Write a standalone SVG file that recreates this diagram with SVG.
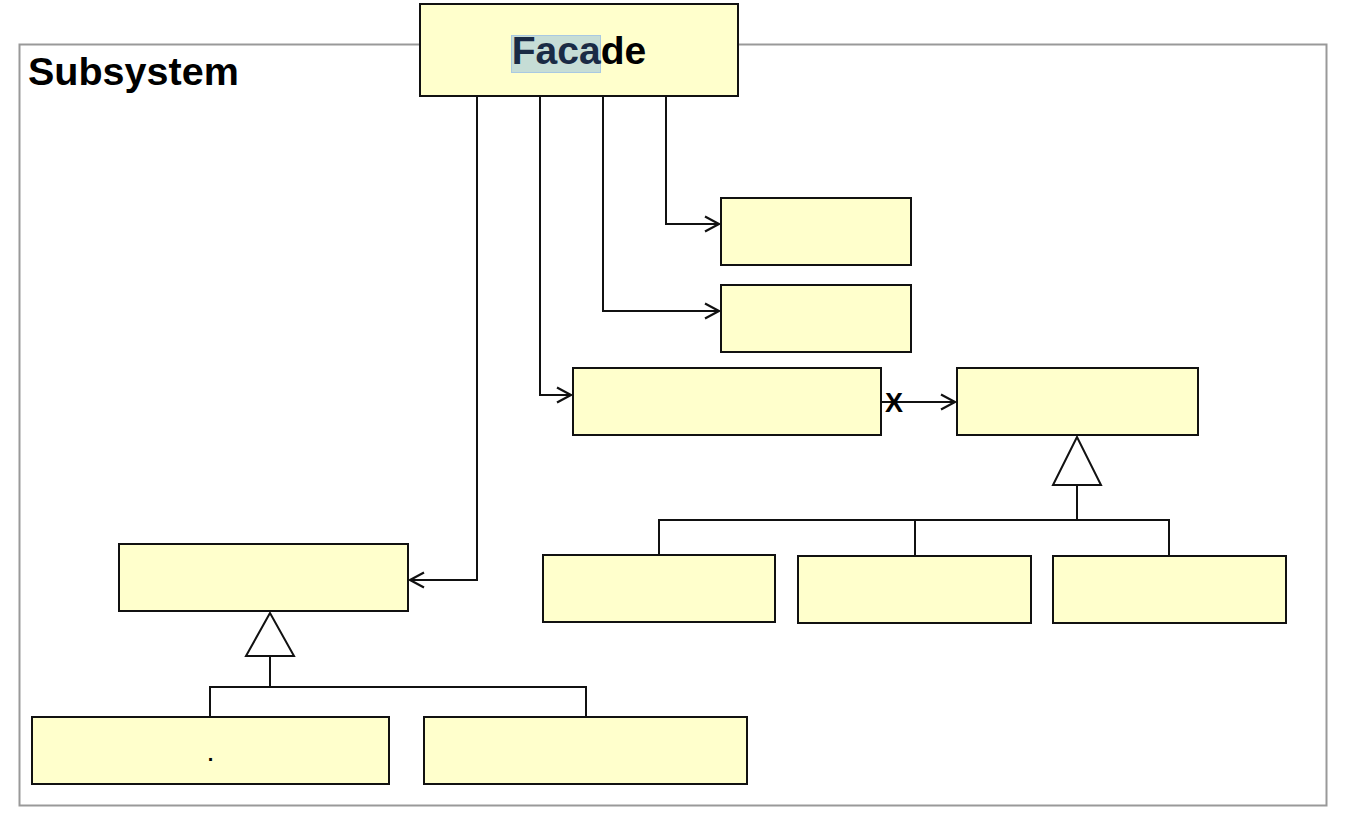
<svg xmlns="http://www.w3.org/2000/svg" width="1349" height="822" viewBox="0 0 1349 822">
<style>
.cls{fill:#ffffcc;stroke:#111;stroke-width:2}
.ln{fill:none;stroke:#111;stroke-width:2}
.tri{fill:#fff;stroke:#111;stroke-width:2}
.t{font-family:"Liberation Sans",Arial,sans-serif;font-weight:bold;fill:#000}
</style>
<defs>
<marker id="open" markerWidth="18" markerHeight="18" refX="15" refY="9" orient="auto" markerUnits="userSpaceOnUse">
<path d="M1,1.5 L15,9 L1,16.5" fill="none" stroke="#111" stroke-width="2.2"/>
</marker>
</defs>
<rect width="1349" height="822" fill="#fff"/>
<g id="subsystem">
<rect x="19.5" y="44.5" width="1307" height="761" fill="none" stroke="#999" stroke-width="2"/>
<text class="t" x="28" y="85" font-size="39.5">Subsystem</text>
</g>
<g id="connectors">
<polyline class="ln" points="666,96 666,224 719,224" marker-end="url(#open)"/>
<polyline class="ln" points="603,96 603,311 719,311" marker-end="url(#open)"/>
<polyline class="ln" points="540,96 540,395 571,395" marker-end="url(#open)"/>
<polyline class="ln" points="477,96 477,580 410,580" marker-end="url(#open)"/>
<line class="ln" x1="881" y1="402" x2="955" y2="402" marker-end="url(#open)"/>
<text class="t" x="894" y="412" font-size="27" text-anchor="middle">X</text>
<polygon class="tri" points="1077,437 1053,485 1101,485"/>
<line class="ln" x1="1077" y1="485" x2="1077" y2="520"/>
<polyline class="ln" points="659,555 659,520 1169,520 1169,556"/>
<line class="ln" x1="915" y1="520" x2="915" y2="556"/>
<polygon class="tri" points="270,613 246,656 294,656"/>
<line class="ln" x1="270" y1="656" x2="270" y2="687"/>
<polyline class="ln" points="210,717 210,687 586,687 586,717"/>
</g>
<g id="facade">
<rect class="cls" x="420" y="4" width="318" height="92"/>
<rect x="511.5" y="35.5" width="89" height="37" fill="#c6ddd6" stroke="#a9c9e2" stroke-width="1"/>
<text class="t" x="579" y="64" font-size="39" text-anchor="middle"><tspan fill="#1a2b45">Faca</tspan>de</text>
</g>
<g id="box1"><rect class="cls" x="721" y="198" width="190" height="67"/></g>
<g id="box2"><rect class="cls" x="721" y="285" width="190" height="67"/></g>
<g id="box3"><rect class="cls" x="573" y="368" width="308" height="67"/></g>
<g id="box4"><rect class="cls" x="957" y="368" width="241" height="67"/></g>
<g id="box5"><rect class="cls" x="119" y="544" width="289" height="67"/></g>
<g id="box6"><rect class="cls" x="543" y="555" width="232" height="67"/></g>
<g id="box7"><rect class="cls" x="798" y="556" width="233" height="67"/></g>
<g id="box8"><rect class="cls" x="1053" y="556" width="233" height="67"/></g>
<g id="box9"><rect class="cls" x="32" y="717" width="357" height="67"/>
<text class="t" x="210.5" y="761" font-size="20" text-anchor="middle">.</text></g>
<g id="box10"><rect class="cls" x="424" y="717" width="323" height="67"/></g>
</svg>
